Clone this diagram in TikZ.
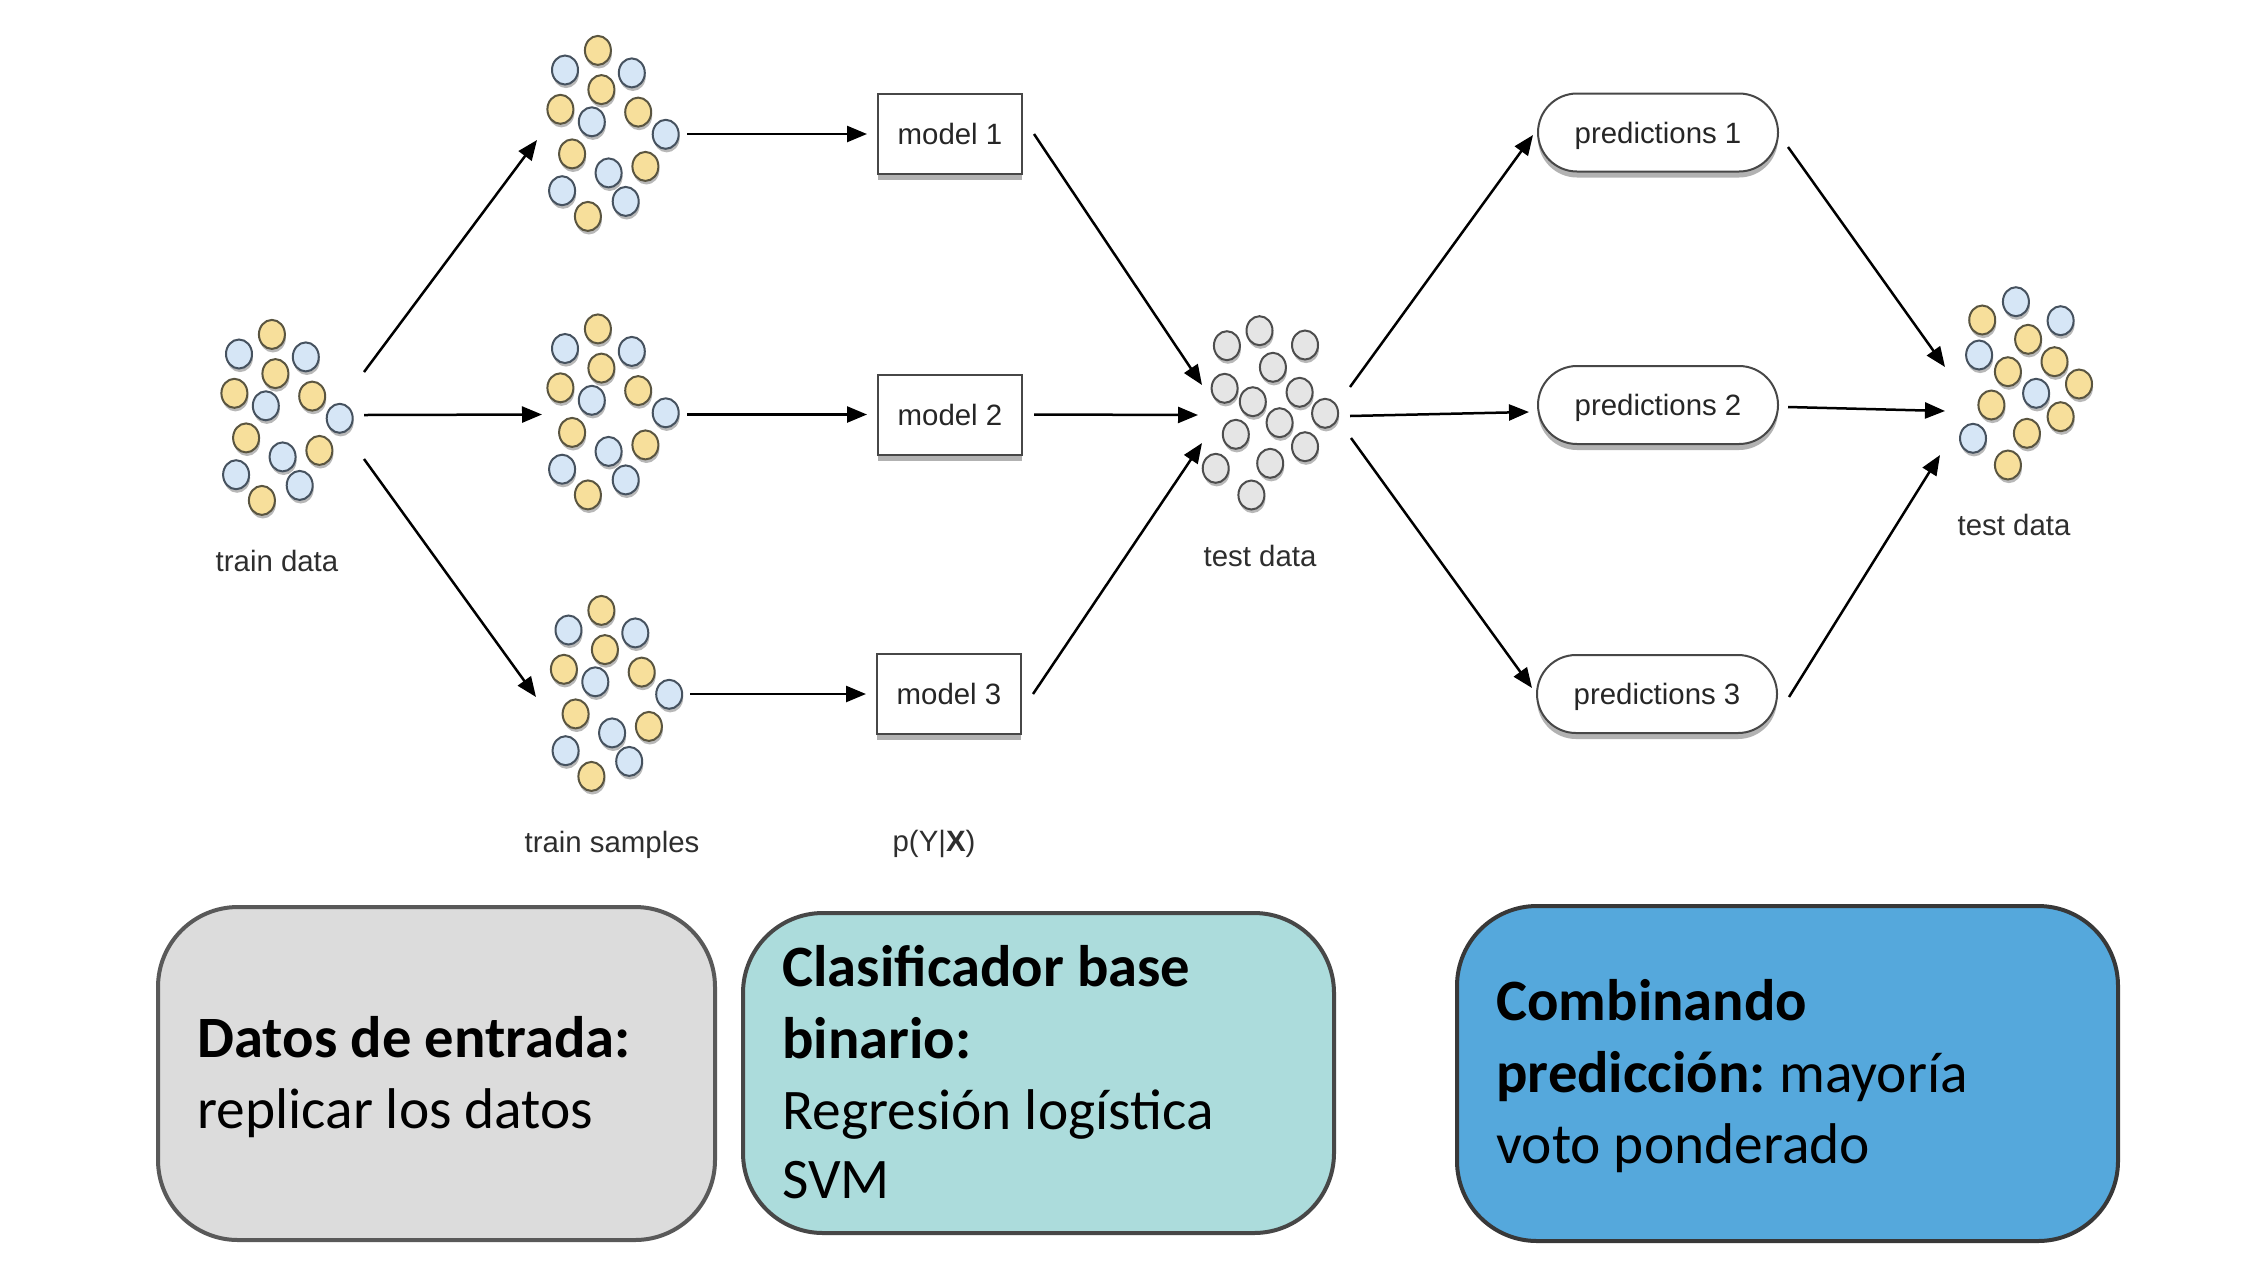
\documentclass[tikz,border=0pt]{standalone}
\usepackage{fontspec}
\setmainfont{Carlito}
\newfontfamily\helv{Liberation Sans}
\usetikzlibrary{arrows.meta,shadows}
\definecolor{yelF}{HTML}{F7DF9B}
\definecolor{yelD}{HTML}{5A5540}
\definecolor{bluF}{HTML}{D6E6F6}
\definecolor{bluD}{HTML}{46525F}
\definecolor{gryF}{HTML}{E5E5E5}
\definecolor{gryD}{HTML}{4D4D4D}
\definecolor{boxA}{HTML}{DCDCDC}
\definecolor{boxB}{HTML}{ACDCDC}
\definecolor{boxC}{HTML}{55A8DC}
\newcommand\bxb[1]{{\fontsize{29.3}{34}\selectfont\bfseries #1}}
\def\patA{ydot/597.9/50.4, bdot/565/70, bdot/631.8/72.9, ydot/601.4/89.6, ydot/560.4/109.3, bdot/591.8/121.8, ydot/638.2/112.1, bdot/665.7/134.3, ydot/572.1/153.9, bdot/608.6/172.9, ydot/645.4/166.4, bdot/562.1/190.7, bdot/625.7/201.4, ydot/587.9/216.4}
\def\patG{gdot/1259.5/330.7, gdot/1226.9/345.7, gdot/1305/345, gdot/1272.9/367.3, gdot/1224.6/388.3, gdot/1299.6/392.3, gdot/1252.8/401.7, gdot/1325.1/413.3, gdot/1279.6/422.7, gdot/1235.8/434.3, gdot/1305/446.7, gdot/1270.2/463.3, gdot/1215.7/468.3, gdot/1251.4/495}
\def\patR{bdot/2015.9/301.7, ydot/1982.2/320, bdot/2060.6/320.7, ydot/2028.1/339.3, bdot/1979.1/355, ydot/2054.5/361.7, ydot/2007.9/371.7, ydot/2079/384, bdot/2036.1/393.3, ydot/1991.4/405, ydot/2060.6/416.7, ydot/2026.9/433.3, bdot/1973/438.3, ydot/2007.9/465}
\begin{document}
\begin{tikzpicture}[x=0.5pt,y=-0.5pt,
  dotshadow/.style={drop shadow={shadow xshift=0.5pt,shadow yshift=-1.8pt,opacity=0.28,fill=black}},
  ydot/.style={fill=yelF,draw=yelD,line width=1pt,dotshadow},
  bdot/.style={fill=bluF,draw=bluD,line width=1pt,dotshadow},
  gdot/.style={fill=gryF,draw=gryD,line width=1pt,dotshadow},
  lbl/.style={font=\helv\fontsize{14.7}{17}\selectfont,text=black!82,inner sep=0pt},
  boxshadow/.style={drop shadow={shadow xshift=0pt,shadow yshift=-3pt,opacity=0.4,fill=black!75}},
  mbox/.style={draw=black!72,fill=white,line width=1pt,minimum width=72pt,minimum height=40pt,inner sep=0pt,boxshadow,font=\helv\fontsize{14.7}{17}\selectfont,text=black!85},
  pbox/.style={mbox,rounded corners=19.5pt,minimum width=120pt,minimum height=39pt,text depth=0pt},
  arr/.style={line width=1.25pt,draw=black,-{Triangle[length=10pt,width=8pt]}},
  bigbox/.style={line width=2pt,rounded corners=40pt,inner sep=0pt},
  btxt/.style={anchor=base west,inner sep=0pt,font=\fontsize{28.7}{34}\selectfont,text=black}]
\useasboundingbox (0,0) rectangle (2252,1270);
\fill[white] (0,0) rectangle (2252,1270);
% clusters
\begin{scope}[shift={(-326,284)}]
\foreach \c/\x/\y in \patA {\path[style=\c] (\x,\y) ellipse [x radius=13, y radius=14.5];}
\end{scope}
\foreach \c/\x/\y in \patA {\path[style=\c] (\x,\y) ellipse [x radius=13, y radius=14.5];}
\begin{scope}[shift={(0,278.5)}]
\foreach \c/\x/\y in \patA {\path[style=\c] (\x,\y) ellipse [x radius=13, y radius=14.5];}
\end{scope}
\begin{scope}[shift={(3.5,560)}]
\foreach \c/\x/\y in \patA {\path[style=\c] (\x,\y) ellipse [x radius=13, y radius=14.5];}
\end{scope}
\foreach \c/\x/\y in \patG {\path[style=\c] (\x,\y) ellipse [x radius=13, y radius=14.5];}
\foreach \c/\x/\y in \patR {\path[style=\c] (\x,\y) ellipse [x radius=13, y radius=14.5];}
% labels
\node[lbl,anchor=base] (ltrain) at (277,571) {train data};
\node[lbl,anchor=base] (lsamp) at (612,852) {train samples};
\node[lbl,anchor=base] (lpyx) at (934,851) {p(Y|\textbf{X})};
\node[lbl,anchor=base] (ltest) at (1260,566) {test data};
\node[lbl,anchor=base] (ltest2) at (2014,535) {test data};
% model and prediction boxes
\node[mbox] (m1) at (950,134) {model 1};
\node[mbox] (m2) at (950,414.5) {model 2};
\node[mbox] (m3) at (949,694) {model 3};
\node[pbox] (p1) at (1658,132.5) {predictions 1};
\node[pbox] (p2) at (1658,405) {predictions 2};
\node[pbox] (p3) at (1657,694) {predictions 3};
% connector ends
\coordinate (trU) at (364,372);
\coordinate (trM) at (364,415);
\coordinate (trD) at (364,459);
\coordinate (sAi) at (537,140);
\coordinate (sBi) at (542,414.5);
\coordinate (sCi) at (536,697);
\coordinate (sAo) at (687,134);
\coordinate (sBo) at (687,414.5);
\coordinate (sCo) at (690,694);
\coordinate (tdi1) at (1202,385);
\coordinate (tdi2) at (1198,415);
\coordinate (tdi3) at (1202,443);
\coordinate (tdo1) at (1350,387);
\coordinate (tdo2) at (1350,416);
\coordinate (tdo3) at (1351,438);
\coordinate (p1i) at (1533,135);
\coordinate (p2i) at (1529,412);
\coordinate (p3i) at (1532,688);
\coordinate (p1o) at (1788,147);
\coordinate (p2o) at (1788,407);
\coordinate (p3o) at (1789,697);
\coordinate (rti1) at (1945,367);
\coordinate (rti2) at (1945,411);
\coordinate (rti3) at (1940,455);
% arrows
\draw[arr] (trU) -- (sAi);
\draw[arr] (trM) -- (sBi);
\draw[arr] (trD) -- (sCi);
\draw[arr] (sAo) -- ([xshift=-5pt]m1.west);
\draw[arr] (sBo) -- ([xshift=-5pt]m2.west);
\draw[arr] (sCo) -- ([xshift=-5pt]m3.west);
\draw[arr] ([xshift=5.5pt]m1.east) -- (tdi1);
\draw[arr] ([xshift=5.5pt]m2.east) -- (tdi2);
\draw[arr] ([xshift=5.5pt]m3.east) -- (tdi3);
\draw[arr] (tdo1) -- (p1i);
\draw[arr] (tdo2) -- (p2i);
\draw[arr] (tdo3) -- (p3i);
\draw[arr] (p1o) -- (rti1);
\draw[arr] (p2o) -- (rti2);
\draw[arr] (p3o) -- (rti3);
% bottom boxes
\node[bigbox,fill=boxA,draw=black!65,minimum width=278.5pt,minimum height=166.5pt] (b1) at (436.5,1073.5) {};
\node[bigbox,fill=boxB,draw=black!72,minimum width=295.5pt,minimum height=160pt] (b2) at (1038.5,1073) {};
\node[bigbox,fill=boxC,draw=black!78,minimum width=330.5pt,minimum height=167.5pt] (b3) at (1787.5,1073.5) {};
\node[btxt] (b1l1) at (197,1057) {\bxb{Datos de entrada:}};
\node[btxt] (b1l2) at (197,1128) {replicar los datos};
\node[btxt] (b2l1) at (782,986) {\bxb{Clasificador base}};
\node[btxt] (b2l2) at (782,1058) {\bxb{binario:}};
\node[btxt] (b2l3) at (782,1129) {Regresión logística};
\node[btxt] (b2l4) at (782,1198) {SVM};
\node[btxt] (b3l1) at (1496,1020) {\bxb{Combinando}};
\node[btxt] (b3l2) at (1496,1092) {\bxb{predicción:}\hspace{-2pt} mayoría};
\node[btxt] (b3l3) at (1496,1163) {voto ponderado};
\end{tikzpicture}
\end{document}
